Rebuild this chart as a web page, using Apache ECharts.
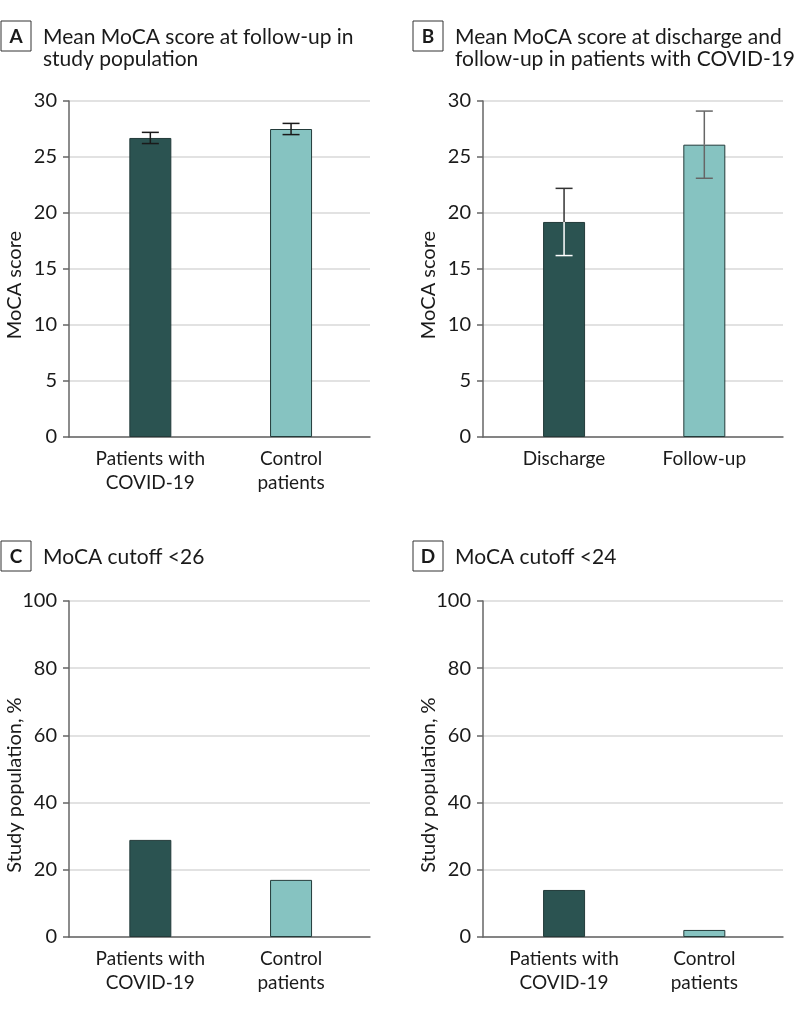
<!DOCTYPE html>
<html>
<head>
<meta charset="utf-8">
<script src="https://cdn.jsdelivr.net/npm/echarts@6/dist/echarts.min.js"></script>
<style>
  html, body { margin: 0; padding: 0; background: #fff; }
  #chart { width: 798px; height: 1012px; }
</style>
</head>
<body>
<div id="chart"></div>
<script>
// ---- data ----
const groupCategories = ['Patients with\nCOVID-19', 'Control\npatients'];
const timeCategories = ['Discharge', 'Follow-up'];
const meanA = [26.7, 27.5];
const errA = [0.5, 0.5];
const meanB = [19.2, 26.1];
const errB = [3.0, 3.0];
const pctC = [28.9, 17.0];
const pctD = [14.0, 2.1];
const scoreTicks = { min: 0, max: 30, interval: 5 };
const pctTicks = { min: 0, max: 100, interval: 20 };
const panelTitles = [
  ['A', 'Mean MoCA score at follow-up in', 'study population'],
  ['B', 'Mean MoCA score at discharge and', 'follow-up in patients with COVID-19'],
  ['C', 'MoCA cutoff <26', ''],
  ['D', 'MoCA cutoff <24', '']
];
const yNames = ['MoCA score', 'MoCA score', 'Study population, %', 'Study population, %'];

// ---- style ----
const FONT = 'Lato';
const DARK = '#2b5351';
const LIGHT = '#86c3c1';
const barColors = [DARK, LIGHT];
const grids = [
  { left: 69, top: 101, width: 301, height: 336 },
  { left: 483, top: 101, width: 300, height: 336 },
  { left: 69, top: 601, width: 301, height: 336 },
  { left: 483, top: 601, width: 300, height: 336 }
];
const xCats = [groupCategories, timeCategories, groupCategories, groupCategories];
const yTicks = [scoreTicks, scoreTicks, pctTicks, pctTicks];
const barData = [meanA, meanB, pctC, pctD];

const chart = echarts.init(document.getElementById('chart'), null, { renderer: 'canvas' });

const xAxes = xCats.map((cats, i) => ({
  gridIndex: i,
  type: 'value',
  min: -0.578,
  max: 1.561,
  axisLine: { show: true, onZero: false, lineStyle: { color: '#666', width: 1.5 } },
  axisTick: { show: false },
  splitLine: { show: false },
  axisLabel: {
    customValues: [0, 1],
    formatter: v => cats[Math.round(v)],
    fontFamily: FONT, fontSize: 19, lineHeight: 24, color: '#1a1a1a', margin: 10
  }
}));

const yAxes = yTicks.map((t, i) => ({
  gridIndex: i,
  type: 'value',
  min: t.min, max: t.max, interval: t.interval,
  axisLine: { show: true, onZero: false, lineStyle: { color: '#666', width: 1.5 } },
  axisTick: { show: true, length: 6, lineStyle: { color: '#666', width: 1.5 } },
  axisLabel: { fontFamily: FONT, fontSize: 20, color: '#1a1a1a', margin: 12 },
  splitLine: { show: true, lineStyle: { color: '#d9d9d9', width: 1.5 } }
}));

const series = [];
barData.forEach((vals, i) => {
  series.push({
    type: 'bar',
    xAxisIndex: i, yAxisIndex: i,
    barWidth: 42,
    data: vals.map((v, k) => ({
      value: [k, v],
      itemStyle: { color: barColors[k], borderColor: '#233b3a', borderWidth: 1 }
    })),
    silent: true,
    z: 2
  });
});

function errorSeries(idx, means, errs, lowerColors, upperColors) {
  return {
    type: 'custom',
    xAxisIndex: idx, yAxisIndex: idx,
    z: 5, silent: true,
    data: means.map((m, k) => [k, m, errs[k]]),
    renderItem: (params, api) => {
      const x = api.value(0), m = api.value(1), e = api.value(2);
      const k = params.dataIndex;
      const lo = api.coord([x, m - e]);
      const mid = api.coord([x, m]);
      const hi = api.coord([x, m + e]);
      const cap = 8.5;
      const lc = lowerColors[k], uc = upperColors[k];
      return {
        type: 'group',
        children: [
          { type: 'line', shape: { x1: lo[0], y1: lo[1], x2: mid[0], y2: mid[1] }, style: { stroke: lc, lineWidth: 1.5 } },
          { type: 'line', shape: { x1: lo[0] - cap, y1: lo[1], x2: lo[0] + cap, y2: lo[1] }, style: { stroke: lc, lineWidth: 1.5 } },
          { type: 'line', shape: { x1: mid[0], y1: mid[1], x2: hi[0], y2: hi[1] }, style: { stroke: uc, lineWidth: 1.5 } },
          { type: 'line', shape: { x1: hi[0] - cap, y1: hi[1], x2: hi[0] + cap, y2: hi[1] }, style: { stroke: uc, lineWidth: 1.5 } }
        ]
      };
    }
  };
}
series.push(errorSeries(0, meanA, errA, ['#1a1a1a', '#1a1a1a'], ['#1a1a1a', '#1a1a1a']));
series.push(errorSeries(1, meanB, errB, ['#ffffff', '#666666'], ['#333333', '#666666']));

// titles and axis names
const graphics = [];
grids.forEach((g, i) => {
  const [letter, l1, l2] = panelTitles[i];
  const bx = i % 2 === 0 ? 1 : 413;
  const by = i < 2 ? 21 : 541;
  graphics.push({
    type: 'rect', shape: { x: bx, y: by, width: 30, height: 30 },
    style: { fill: '#fff', stroke: '#333', lineWidth: 1 }
  });
  graphics.push({
    type: 'text', x: bx + 15, y: by + 15.5,
    style: { text: letter, font: 'bold 19px ' + FONT, fill: '#1a1a1a', align: 'center', verticalAlign: 'middle' }
  });
  graphics.push({
    type: 'text', x: bx + 42, y: by + 16,
    style: { text: l1, font: '21px ' + FONT, fill: '#1a1a1a', align: 'left', verticalAlign: 'middle' }
  });
  if (l2) {
    graphics.push({
      type: 'text', x: bx + 42, y: by + 38,
      style: { text: l2, font: '21px ' + FONT, fill: '#1a1a1a', align: 'left', verticalAlign: 'middle' }
    });
  }
  graphics.push({
    type: 'text', x: g.left - 54, y: g.top + g.height / 2 + 16, rotation: Math.PI / 2,
    style: { text: yNames[i], font: '20px ' + FONT, fill: '#1a1a1a', align: 'center', verticalAlign: 'middle' }
  });
});

chart.setOption({
  animation: false,
  backgroundColor: '#ffffff',
  grid: grids.map(g => Object.assign({ containLabel: false }, g)),
  xAxis: xAxes,
  yAxis: yAxes,
  series: series,
  graphic: graphics
});
</script>
</body>
</html>
